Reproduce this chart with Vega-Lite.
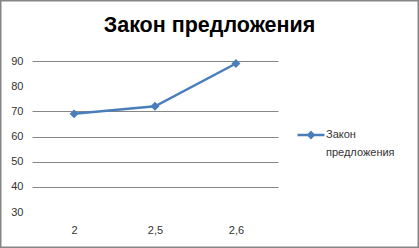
{
  "$schema": "https://vega.github.io/schema/vega-lite/v6.json",
  "width": 419,
  "height": 248,
  "autosize": {"type": "none"},
  "padding": 0,
  "background": "white",
  "title": {
    "text": "Закон предложения",
    "font": "Liberation Sans",
    "fontSize": 21.5,
    "fontWeight": "bold",
    "color": "#000000",
    "anchor": "middle",
    "baseline": "alphabetic",
    "offset": -33,
    "dy": 20
  },
  "data": {
    "values": [
      {"price": "2", "quantity": 69, "series": "Закон предложения"},
      {"price": "2,5", "quantity": 72, "series": "Закон предложения"},
      {"price": "2,6", "quantity": 89, "series": "Закон предложения"}
    ]
  },
  "mark": {
    "type": "line",
    "strokeWidth": 2.5,
    "point": {"shape": "diamond", "size": 80, "filled": true, "opacity": 1}
  },
  "encoding": {
    "x": {
      "field": "price",
      "type": "ordinal",
      "sort": null,
      "scale": {"type": "point", "range": [32, 278], "padding": 0.52},
      "axis": {
        "title": null,
        "grid": false,
        "domain": false,
        "ticks": false,
        "tickSize": 0,
        "labelPadding": 2,
        "offset": -26,
        "labelAngle": 0,
        "labelFont": "Liberation Sans",
        "labelFontSize": 11,
        "labelColor": "#333333"
      }
    },
    "y": {
      "field": "quantity",
      "type": "quantitative",
      "scale": {"domain": [30, 90], "range": [212, 61], "nice": false, "zero": false},
      "axis": {
        "title": null,
        "values": [30, 40, 50, 60, 70, 80, 90],
        "domain": false,
        "ticks": false,
        "tickSize": 0,
        "labelPadding": 2,
        "offset": -25,
        "labelFont": "Liberation Sans",
        "labelFontSize": 11,
        "labelColor": "#333333",
        "grid": true,
        "gridColor": "#868686",
        "gridWidth": 1,
        "gridOpacity": {"condition": {"test": "datum.value == 80 || datum.value == 30", "value": 0}, "value": 1}
      }
    },
    "color": {
      "field": "series",
      "type": "nominal",
      "scale": {"range": ["#4a7ebb"]},
      "legend": {
        "title": null,
        "orient": "none",
        "legendX": 296,
        "legendY": 120,
        "padding": 0,
        "symbolType": "M-1,0H1M0,-0.2L0.2,0L0,0.2L-0.2,0Z",
        "symbolSize": 729,
        "symbolStrokeWidth": 2.5,
        "symbolFillColor": "#4a7ebb",
        "labelOffset": 0,
        "labelFont": "Liberation Sans",
        "labelFontSize": 11,
        "labelColor": "#333333",
        "labelLimit": 200,
        "labelExpr": "split(datum.label, ' ')",
        "encode": {"labels": {"update": {"lineHeight": {"value": 18}}}}
      }
    }
  },
  "config": {
    "view": {"stroke": "#868686", "strokeWidth": 3}
  }
}
